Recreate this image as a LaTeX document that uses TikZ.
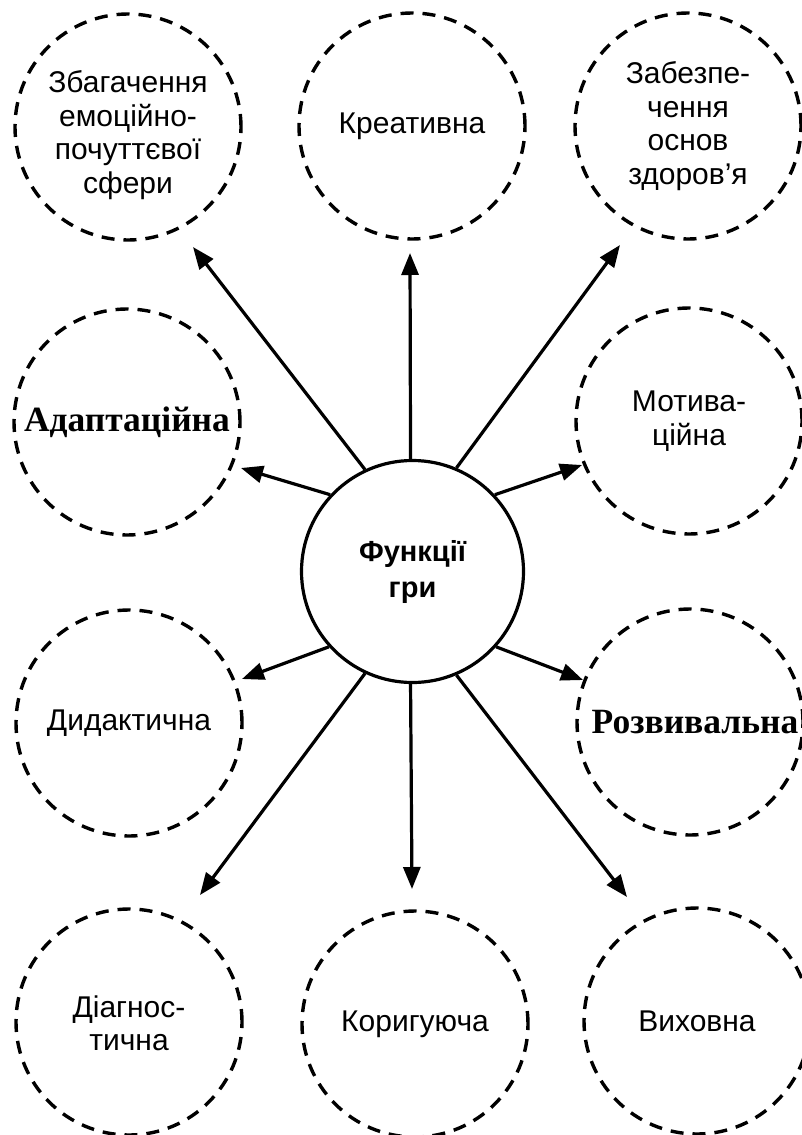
\documentclass[tikz,border=0pt]{standalone}
\usepackage{fontspec}
\setmainfont{Liberation Sans}
\newfontfamily\serifbook{Liberation Serif}
\usetikzlibrary{arrows.meta}
\begin{document}
\begin{tikzpicture}[x=1pt,y=-1pt,
  fn/.style={circle, draw, line width=3.4pt, dash pattern=on 13pt off 9pt,
    minimum size=226pt, inner sep=0pt, align=center,
    font=\fontsize{30}{33.5}\selectfont},
  hub/.style={circle, draw, line width=3.2pt, minimum size=222pt, inner sep=0pt,
    align=center, font=\bfseries\fontsize{29}{36}\selectfont},
  serifbig/.style={font=\serifbook\bfseries\fontsize{35.5}{38}\selectfont},
  arr/.style={line width=3.2pt, -{Triangle[length=22pt,width=17pt]}}]
\fill[white] (0,0) rectangle (801,1135);
\useasboundingbox (0,0) rectangle (801,1135);
% function circles
\node[fn] (z)  at (128,127) {\mbox{}\\[5pt]Збагачення\\емоційно-\\почуттєвої\\сфери};
\node[fn] (k)  at (412,126) {Креативна};
\node[fn] (zd) at (688,126) {Забезпе-\\чення\\основ\\здоров’я};
\node[fn, serifbig] (a) at (127,422) {Адаптаційна};
\node[fn] (m)  at (689,421) {Мотива-\\ційна};
\node[fn] (d)  at (129,723) {Дидактична};
\node[fn, serifbig] (r) at (690,722) {\hspace*{10pt}Розвивальна};
\node[fn] (dg) at (129,1022) {\mbox{}\\[-9pt]Діагнос-\\тична};
\node[fn] (kr) at (415,1024) {Коригуюча};
\node[fn] (v)  at (697,1021) {Виховна};
% hub
\node[hub] (c) at (412.5,571.5) {Функції\\гри};
% arrow tips
\coordinate (t1) at (193,247);
\coordinate (t2) at (410,253);
\coordinate (t3) at (620,245);
\coordinate (t4) at (241,468);
\coordinate (t5) at (582,465);
\coordinate (t6) at (242,679);
\coordinate (t7) at (583,680);
\coordinate (t8) at (200,895);
\coordinate (t9) at (412,889);
\coordinate (t10) at (627,897);
\draw[arr] (c.115.3) -- (t1);
\draw[arr] (c.91) -- (t2);
\draw[arr] (c.67.9) -- (t3);
\draw[arr] (c.137.2) -- (t4);
\draw[arr] (c.43.6) -- (t5);
\draw[arr] (c.222.9) -- (t6);
\draw[arr] (c.-42.9) -- (t7);
\draw[arr] (c.245.8) -- (t8);
\draw[arr] (c.269) -- (t9);
\draw[arr] (c.-67.1) -- (t10);
\end{tikzpicture}
\end{document}
